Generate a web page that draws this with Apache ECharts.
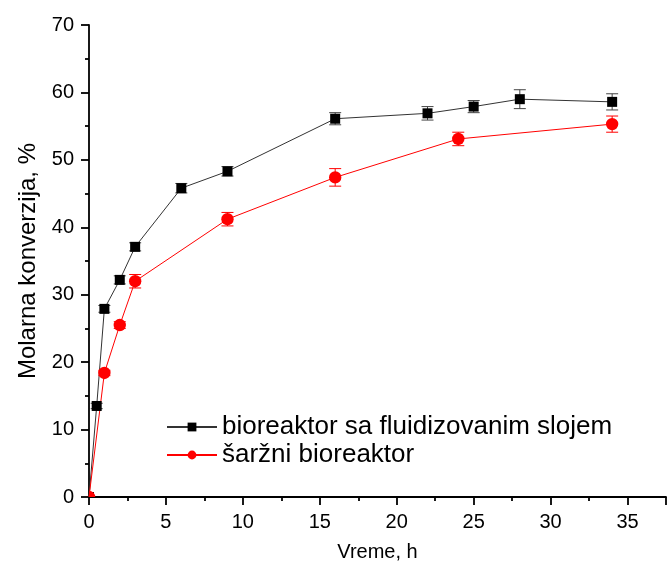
<!DOCTYPE html>
<html>
<head>
<meta charset="utf-8">
<script src="https://cdn.jsdelivr.net/npm/echarts@6/dist/echarts.min.js"></script>
<style>html,body{margin:0;padding:0;background:#fff;}#c{width:669px;height:568px;}</style>
</head>
<body>
<div id="c"></div>
<script>
const timeFluid = [0, 0.5, 1, 2, 3, 6, 9, 16, 22, 25, 28, 34];
const convFluid = [0, 13.5, 27.9, 32.2, 37.1, 45.8, 48.3, 56.1, 56.9, 57.9, 59.0, 58.6];
const errFluid  = [0, 0.4, 0.5, 0.6, 0.6, 0.7, 0.7, 0.9, 1.0, 0.9, 1.4, 1.2];
const timeBatch = [0, 1, 2, 3, 9, 16, 24, 34];
const convBatch = [0, 18.4, 25.5, 32.0, 41.2, 47.4, 53.1, 55.3];
const errBatch  = [0, 0.4, 0.5, 1.0, 1.0, 1.3, 1.0, 1.2];
const nameFluid = 'bioreaktor sa fluidizovanim slojem';
const nameBatch = 'šaržni bioreaktor';
const xTitle = 'Vreme, h';
const yTitle = 'Molarna konverzija, %';

const FONT = '"Liberation Sans", Arial, sans-serif';

function pairs(xs, ys) { return xs.map((x, i) => [x, ys[i]]); }
function errData(xs, ys, es) { return xs.map((x, i) => [x, ys[i], ys[i] - es[i], ys[i] + es[i]]); }

function markRender(color, barColor, shape) {
  return function (params, api) {
    const x = api.value(0);
    const c = api.coord([x, api.value(1)]);
    const lo = api.coord([x, api.value(2)]);
    const hi = api.coord([x, api.value(3)]);
    const w = 6;
    const st = { stroke: barColor, lineWidth: 1 };
    const children = [];
    if (Math.abs(lo[1] - hi[1]) > 0.5) {
      children.push(
        { type: 'line', shape: { x1: lo[0], y1: lo[1], x2: hi[0], y2: hi[1] }, style: st },
        { type: 'line', shape: { x1: lo[0] - w, y1: lo[1], x2: lo[0] + w, y2: lo[1] }, style: st },
        { type: 'line', shape: { x1: hi[0] - w, y1: hi[1], x2: hi[0] + w, y2: hi[1] }, style: st }
      );
    }
    if (shape === 'rect') {
      children.push({ type: 'rect', shape: { x: c[0] - 5, y: c[1] - 5, width: 10, height: 10 }, style: { fill: color } });
    } else {
      children.push({ type: 'circle', shape: { cx: c[0], cy: c[1], r: 6.2 }, style: { fill: color } });
    }
    return { type: 'group', children: children };
  };
}

const chart = echarts.init(document.getElementById('c'), null, { renderer: 'canvas' });
const axisCommon = {
  axisLine: { show: true, lineStyle: { color: '#000', width: 1.8 } },
  axisTick: { show: true, inside: false, length: 8, lineStyle: { color: '#000', width: 1.8 } },
  minorTick: { show: true, splitNumber: 2, length: 4, lineStyle: { color: '#000', width: 1.8 } },
  splitLine: { show: false }
};
chart.setOption({
  animation: false,
  backgroundColor: '#fff',
  grid: { left: 89, right: 0, top: 25, bottom: 71, containLabel: false },
  legend: {
    left: 161, top: 409, orient: 'vertical',
    itemWidth: 50, itemHeight: 11, itemGap: 2,
    textStyle: { color: '#000', fontSize: 26, lineHeight: 26, fontFamily: FONT },
    data: [nameFluid, nameBatch]
  },
  xAxis: Object.assign({
    type: 'value', min: 0, max: 37.5, interval: 5,
    name: xTitle, nameLocation: 'middle', nameGap: 45,
    nameTextStyle: { color: '#000', fontSize: 20, fontFamily: FONT },
    axisLabel: { color: '#000', fontSize: 20, fontFamily: FONT, margin: 15,
      formatter: v => (v % 5 === 0 ? String(v) : '') }
  }, axisCommon),
  yAxis: Object.assign({
    type: 'value', min: 0, max: 70, interval: 10,
    name: yTitle, nameLocation: 'middle', nameGap: 49,
    nameTextStyle: { color: '#000', fontSize: 24, fontFamily: FONT },
    axisLabel: { color: '#000', fontSize: 20, fontFamily: FONT, margin: 15 }
  }, axisCommon),
  series: [
    {
      name: nameFluid, type: 'line', data: pairs(timeFluid, convFluid),
      symbol: 'rect', showSymbol: false, z: 3,
      lineStyle: { color: '#333', width: 1 },
      itemStyle: { color: '#000' }
    },
    {
      name: nameBatch, type: 'line', data: pairs(timeBatch, convBatch),
      symbol: 'circle', showSymbol: false, z: 3,
      lineStyle: { color: '#ff0000', width: 1 },
      itemStyle: { color: '#ff0000' }
    },
    {
      type: 'custom', data: errData(timeFluid, convFluid, errFluid), z: 4, clip: true,
      renderItem: markRender('#000', '#444', 'rect'), silent: true
    },
    {
      type: 'custom', data: errData(timeBatch, convBatch, errBatch), z: 5, clip: true,
      renderItem: markRender('#ff0000', '#ff0000', 'circle'), silent: true
    }
  ]
});
</script>
</body>
</html>
